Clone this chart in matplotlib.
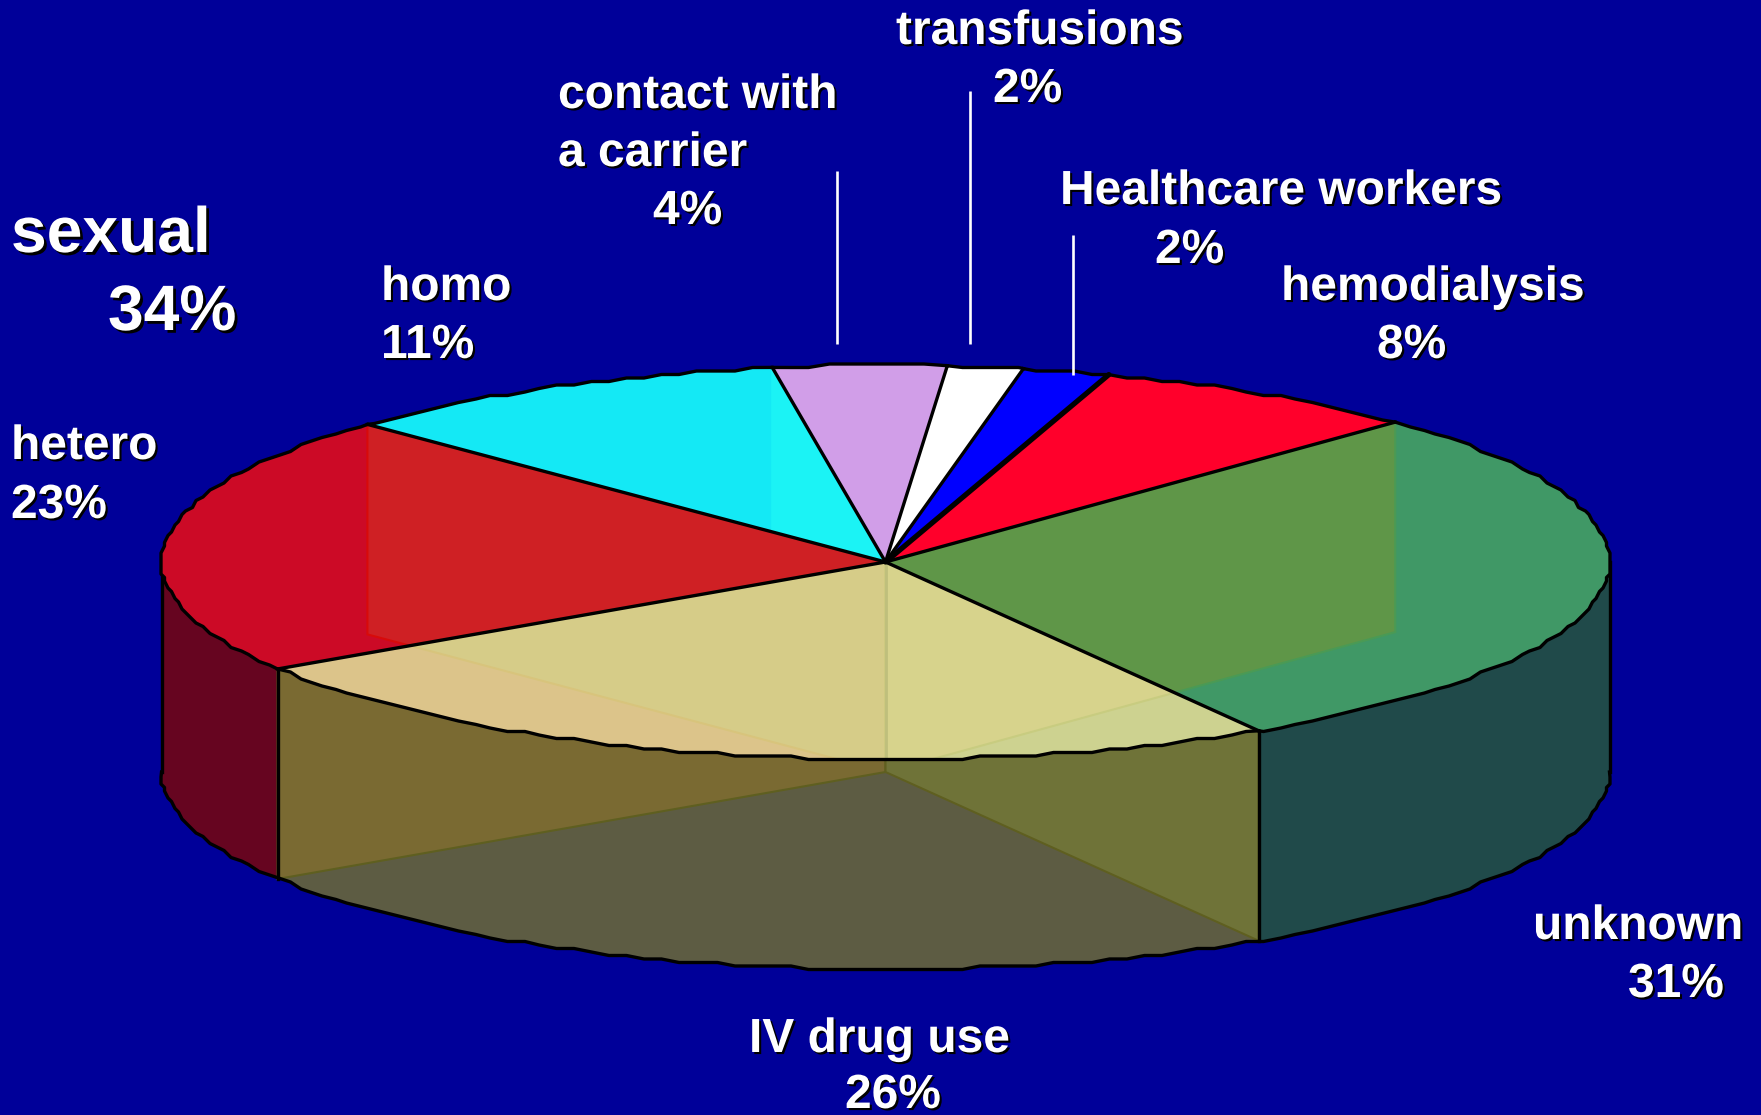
import numpy as np
import matplotlib
matplotlib.use('Agg')
import matplotlib.pyplot as plt
import matplotlib.patheffects as pe
from matplotlib.patches import Polygon

plt.rcParams['font.family'] = ['Liberation Sans', 'DejaVu Sans']

# slices clockwise, starting just left of the top of the pie
categories = ['contact with a carrier', 'transfusions', 'Healthcare workers', 'hemodialysis',
              'unknown', 'IV drug use', 'hetero', 'homo']
# printed percentages (they add up to more than 100 in the original)
printed_pct = [4, 2, 2, 8, 31, 26, 23, 11]
# size of the drawn slices, read from the rim
slice_share = [3.86, 1.69, 1.94, 7.44, 28.94, 24.48, 21.44, 10.19]
sexual_pct = 34

top_colors = ['#d19ee8', '#ffffff', '#0000ff', '#ff002b', '#409866', '#cdd290', '#cc0a26', '#14e9f5']
side_colors = ['#000000', '#000000', '#000000', '#000000', '#204a4a', '#5d5c43', '#660520', '#000000']
BG = '#000099'

# pie geometry in pixels
CX, CY = 885.5, 562
RX, RY = 724, 197
DEPTH = 210
START = -9.0
STEP = 1.5   # the rim of the original is a coarse polygon
GRID = 3.5
LW = 2.4

# boundary angles
edges = START + np.concatenate([[0], np.cumsum(slice_share)]) * 3.6 * 100 / sum(slice_share)


def rim_pt(t, dy=0.0):
    r = np.radians(t)
    return np.column_stack([CX + RX * np.sin(r), CY - RY * np.cos(r) + dy])


def rim(t0, t1, dy=0.0):
    """arc from t0 to t1 with the stepped look of the original"""
    ts = np.arange(np.ceil(t0 / STEP + 0.3) * STEP, t1 - 0.4, STEP)
    mid = np.round(rim_pt(ts) / GRID) * GRID + [0, dy]
    return np.vstack([rim_pt(t0, dy), mid, rim_pt(t1, dy)])


def wall(t, **kw):
    """radial inner wall standing under the boundary at angle t"""
    p = rim_pt(t)[0]
    return Polygon([p, (CX, CY), (CX, CY + DEPTH), (p[0], p[1] + DEPTH)], closed=True, **kw)


fig = plt.figure(figsize=(17.61, 11.15), dpi=100, facecolor=BG)
ax = fig.add_axes([0, 0, 1, 1])
ax.set_xlim(0, 1761)
ax.set_ylim(1115, 0)
ax.axis('off')

# outer sides (only the front half shows)
for i, c in enumerate(side_colors):
    t0, t1 = max(edges[i], 90), min(edges[i + 1], 270)
    if t1 <= t0:
        continue
    top = rim(t0, t1)
    bot = rim(t0, t1, DEPTH)
    ax.add_patch(Polygon(np.vstack([top, bot[::-1]]), closed=True, fc=c, ec='none', zorder=1))

# inner walls of the IV slice, seen through the side
ax.add_patch(wall(edges[6], fc='#7a6a32', ec='#5f5f20', lw=1.5, zorder=2))
ax.add_patch(wall(edges[5], fc='#6f7338', ec='#5f5f20', lw=1.5, zorder=2))
bottom_front = rim(90, 270, DEPTH)
ax.plot(bottom_front[:, 0], bottom_front[:, 1], color='k', lw=LW, solid_joinstyle='round', zorder=3)
for t in (edges[5], edges[6], 90, 270):
    p = rim_pt(t)[0]
    ax.plot([p[0], p[0]], [p[1], p[1] + DEPTH], color='k', lw=LW, zorder=3)

# which walls shine through which top, painted in this order
ghosts = {
    4: [(edges[4], '#5f9648', '#4a9a55')],
    5: [(edges[6], '#dcc48a', '#d8c080'), (edges[7], '#d6cc88', '#d8c47c'),
        (edges[4], '#d7d38c', '#c8cc80')],
    6: [(edges[7], '#cf2024', '#d80a0a')],
    7: [(edges[0], '#1bf3f5', '#1bf3f5')],
}

for i, c in enumerate(top_colors):
    arc = rim(edges[i], edges[i + 1])
    pts = np.vstack([[(CX, CY)], arc])
    clip = Polygon(pts, closed=True, transform=ax.transData)
    ax.add_patch(Polygon(pts, closed=True, fc=c, ec='none', zorder=4))
    for t, fc, ec in ghosts.get(i, []):
        g = wall(t, fc=fc, ec=ec, lw=1.5, zorder=5)
        ax.add_patch(g)
        g.set_clip_path(clip)
    if i == 5:
        ln, = ax.plot([CX, CX], [CY, CY + RY], color='#bfbf7c', lw=2, zorder=5)
        ln.set_clip_path(clip)

# outlines on top of everything
for i in range(len(top_colors)):
    arc = rim(edges[i], edges[i + 1])
    # the boundary next to hemodialysis looks doubled
    w = 3.8 if i == 3 else LW
    ax.plot([CX, arc[0, 0]], [CY, arc[0, 1]], color='k', lw=w, solid_capstyle='round', zorder=6)
    ax.plot(arc[:, 0], arc[:, 1], color='k', lw=LW, solid_joinstyle='round', zorder=6)

# white leader lines
for x, y0, y1 in [(837, 171, 344), (970, 91, 344), (1073, 235, 375)]:
    ax.plot([x, x], [y0, y1], color='white', lw=1.9, solid_capstyle='butt', zorder=7)

SMALL, BIG = 34.5, 46.2


def label(x, y, s, size=SMALL):
    off = 1.5 if size == SMALL else 2.0
    ax.text(x, y, s, color='white', fontsize=size, fontweight='bold', ha='left', va='baseline', zorder=8,
            path_effects=[pe.withSimplePatchShadow(offset=(off, -off), shadow_rgbFace='k', alpha=1.0)])


pct = [f'{v}%' for v in printed_pct]
label(896, 44, 'transfusions')
label(993, 102, pct[1])
label(558, 108, 'contact with')
label(558, 166, 'a carrier')
label(653, 224, pct[0])
label(1060, 204, categories[2])
label(1155, 263, pct[2])
label(1281, 300, categories[3])
label(1377, 358, pct[3])
label(11, 252, 'sexual', BIG)
label(108, 330, f'{sexual_pct}%', BIG)
label(381, 300, categories[7])
label(381, 358, pct[7])
label(11, 459, categories[6])
label(11, 518, pct[6])
label(1533, 939, categories[4])
label(1628, 997, pct[4])
label(749, 1052, categories[5])
label(845, 1108, pct[5])

fig.savefig('out.png', dpi=100, facecolor=BG)
